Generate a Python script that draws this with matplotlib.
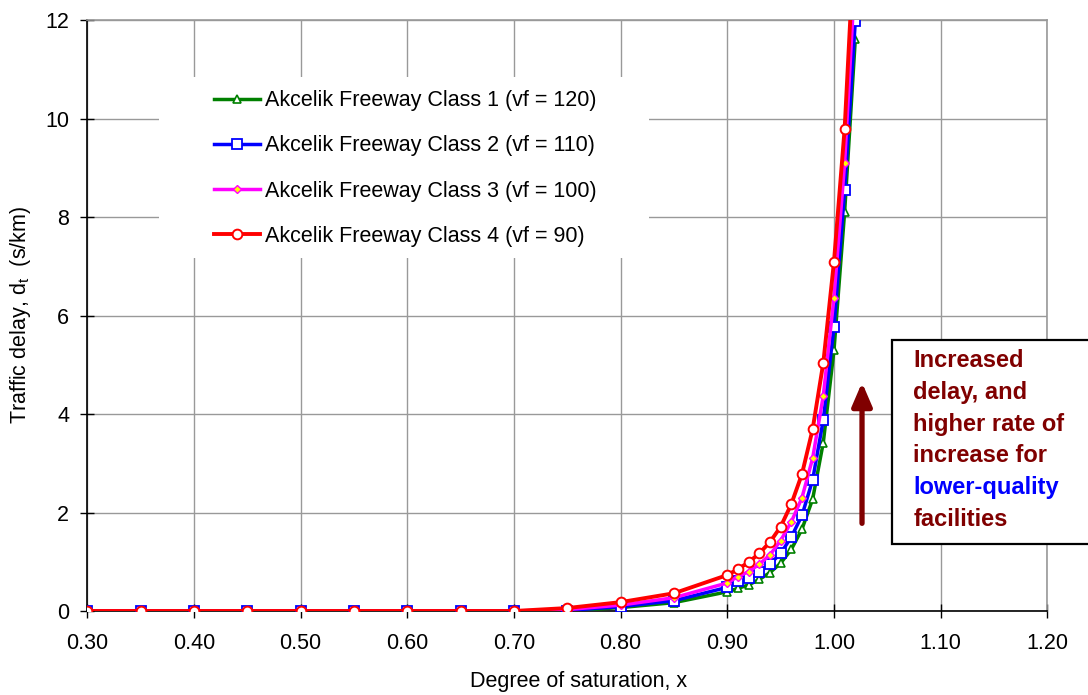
import matplotlib
matplotlib.use("Agg")
import matplotlib.pyplot as plt
from matplotlib.patches import Rectangle

plt.rcParams['font.family'] = ['Liberation Sans', 'DejaVu Sans']

# ---------------- data ----------------
x_sat = [0.30, 0.35, 0.40, 0.45, 0.50, 0.55, 0.60, 0.65, 0.70, 0.75, 0.80, 0.85,
         0.90, 0.91, 0.92, 0.93, 0.94, 0.95, 0.96, 0.97, 0.98, 0.99, 1.00, 1.01, 1.02]

class1_delay = [0, 0, 0, 0, 0, 0, 0, 0, 0, 0.00, 0.07, 0.17,
                0.39, 0.46, 0.53, 0.64, 0.78, 0.97, 1.25, 1.66, 2.27, 3.42, 5.29, 8.10, 11.61]
class2_delay = [0, 0, 0, 0, 0, 0, 0, 0, 0, 0.01, 0.09, 0.21,
                0.48, 0.60, 0.66, 0.80, 0.95, 1.17, 1.50, 1.94, 2.66, 3.88, 5.77, 8.54, 11.98]
class3_delay = [0, 0, 0, 0, 0, 0, 0, 0, 0, 0.03, 0.12, 0.27,
                0.57, 0.70, 0.80, 0.95, 1.14, 1.43, 1.81, 2.30, 3.10, 4.37, 6.36, 9.09, 13.0]
class4_delay = [0, 0, 0, 0, 0, 0, 0, 0, 0, 0.06, 0.18, 0.36,
                0.73, 0.85, 0.99, 1.17, 1.40, 1.71, 2.17, 2.78, 3.69, 5.04, 7.09, 9.79, 14.0]

series_labels = ["Akcelik Freeway Class 1 (vf = 120)",
                 "Akcelik Freeway Class 2 (vf = 110)",
                 "Akcelik Freeway Class 3 (vf = 100)",
                 "Akcelik Freeway Class 4 (vf = 90)"]

x_ticks = [0.30, 0.40, 0.50, 0.60, 0.70, 0.80, 0.90, 1.00, 1.10, 1.20]
x_tick_labels = ["0.30", "0.40", "0.50", "0.60", "0.70", "0.80", "0.90", "1.00", "1.10", "1.20"]
y_ticks = [0, 2, 4, 6, 8, 10, 12]

note_lines = ["Increased", "delay, and", "higher rate of", "increase for",
              "lower-quality", "facilities"]

# ---------------- figure ----------------
fig = plt.figure(figsize=(10.88, 6.95), dpi=100)
ax = fig.add_axes([0.08024, 0.12086, 0.88235, 0.85036])

ax.set_xlim(0.30, 1.20)
ax.set_ylim(0, 12)
ax.set_axisbelow(True)
ax.grid(True, color='#999999', lw=1.0)

ax.plot(x_sat, class1_delay, color='#008000', lw=2.5, marker='^', ms=5.5,
        mfc='white', mec='#008000', mew=1.2, label=series_labels[0], zorder=3)
ax.plot(x_sat, class2_delay, color='#0000FF', lw=2.5, marker='s', ms=6.5,
        mfc='white', mec='#0000FF', mew=1.3, label=series_labels[1], zorder=4)
ax.plot(x_sat, class3_delay, color='#FF00FF', lw=2.5, marker='D', ms=4.5,
        mfc='#FFFF00', mec='#FF00FF', mew=1.0, label=series_labels[2], zorder=5)
ax.plot(x_sat, class4_delay, color='#FF0000', lw=2.8, marker='o', ms=7,
        mfc='white', mec='#FF0000', mew=1.4, label=series_labels[3], zorder=6)

ax.set_xticks(x_ticks)
ax.set_xticklabels(x_tick_labels)
ax.set_yticks(y_ticks)
ax.tick_params(axis='both', direction='inout', length=10, width=1.0, labelsize=15.5,
               color='black')
ax.tick_params(axis='x', pad=11)
ax.tick_params(axis='y', pad=8)

for s in ['left', 'bottom']:
    ax.spines[s].set_color('black')
    ax.spines[s].set_linewidth(1.2)
for s in ['top', 'right']:
    ax.spines[s].set_color('#999999')
    ax.spines[s].set_linewidth(1.2)

# legend with white background block
ax.add_patch(Rectangle((0.0747, 0.5973), 0.5104, 0.3068, transform=ax.transAxes,
                       facecolor='white', edgecolor='none', zorder=1))
leg = ax.legend(loc='upper left', bbox_to_anchor=(0.132, 0.881), frameon=False,
                fontsize=15.5, handlelength=2.14, handletextpad=0.25,
                labelspacing=1.12, borderpad=0, borderaxespad=0)
leg.set_zorder(10)

# arrow
ax.annotate('', xy=(1.0263, 4.64), xytext=(1.0263, 1.78),
            arrowprops=dict(arrowstyle='-|>,head_length=0.7,head_width=0.3',
                            color='#800000', lw=3.8, mutation_scale=20,
                            shrinkA=0, shrinkB=0), zorder=7)

# axis labels
fig.text(579 / 1088, 1 - 681 / 695, "Degree of saturation, x", ha='center',
         va='center', fontsize=15.5)
fig.text(21 / 1088, 1 - 315 / 695, r"Traffic delay, d$_\mathregular{t}$  (s/km)",
         ha='center', va='center', rotation=90, fontsize=15.5)

# annotation box
box = Rectangle((892.3 / 1088, 1 - 544.3 / 695), 0.3, 204.3 / 695,
                transform=fig.transFigure, facecolor='white', edgecolor='black',
                lw=1.6, zorder=5)
fig.add_artist(box)
baselines = [367.3, 399.0, 430.7, 462.4, 494.1, 525.8]
for txt, yb in zip(note_lines, baselines):
    col = '#0000FF' if txt.startswith('lower') else '#800000'
    t = fig.text(913.3 / 1088, 1 - yb / 695, txt, ha='left', va='baseline',
                 fontsize=17, fontweight='bold', color=col)
    t.set_zorder(6)

fig.savefig("out.png", dpi=100)
